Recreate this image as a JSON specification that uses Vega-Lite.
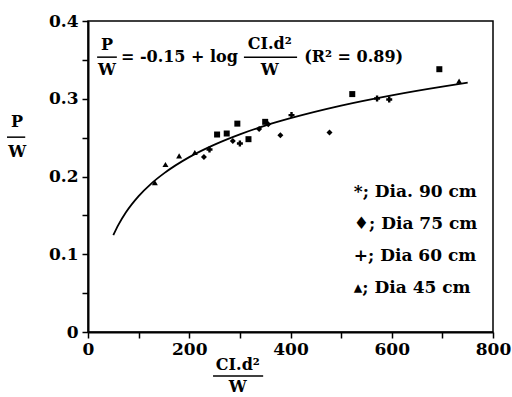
{
  "$schema": "https://vega.github.io/schema/vega-lite/v6.json",
  "autosize": "none",
  "width": 405,
  "height": 311,
  "padding": {"left": 88, "top": 21, "right": 19, "bottom": 65},
  "background": "white",
  "config": {
    "view": {"stroke": "black", "strokeWidth": 1.5},
    "axis": {"grid": false, "domainColor": "black", "domainWidth": 2, "tickColor": "black", "tickWidth": 1.5, "tickSize": 6,
      "labelFont": "DejaVu Serif", "labelFontWeight": "bold", "labelFontSize": 17, "labelColor": "black", "title": null, "labelFlush": false}
  },
  "datasets": {
    "pts": [
      {"x": 255, "y": 0.254, "dia": "90"},
      {"x": 274, "y": 0.2553, "dia": "90"},
      {"x": 295, "y": 0.268, "dia": "90"},
      {"x": 317, "y": 0.248, "dia": "90"},
      {"x": 350, "y": 0.2703, "dia": "90"},
      {"x": 522, "y": 0.306, "dia": "90"},
      {"x": 694, "y": 0.338, "dia": "90"},
      {"x": 229, "y": 0.2252, "dia": "75"},
      {"x": 286, "y": 0.2458, "dia": "75"},
      {"x": 338, "y": 0.261, "dia": "75"},
      {"x": 356, "y": 0.2673, "dia": "75"},
      {"x": 380, "y": 0.2532, "dia": "75"},
      {"x": 477, "y": 0.2566, "dia": "75"},
      {"x": 240, "y": 0.2347, "dia": "60"},
      {"x": 300, "y": 0.2425, "dia": "60"},
      {"x": 402, "y": 0.279, "dia": "60"},
      {"x": 571, "y": 0.3004, "dia": "60"},
      {"x": 595, "y": 0.299, "dia": "60"},
      {"x": 132, "y": 0.192, "dia": "45"},
      {"x": 153, "y": 0.2154, "dia": "45"},
      {"x": 180, "y": 0.2265, "dia": "45"},
      {"x": 211, "y": 0.2309, "dia": "45"},
      {"x": 733, "y": 0.3227, "dia": "45"}
    ],
    "curve": [
      {"x": 50, "y": 0.1245}, {"x": 60, "y": 0.1377}, {"x": 75, "y": 0.1539}, {"x": 100, "y": 0.1747},
      {"x": 125, "y": 0.1909}, {"x": 150, "y": 0.204}, {"x": 200, "y": 0.2249}, {"x": 250, "y": 0.241},
      {"x": 300, "y": 0.2542}, {"x": 350, "y": 0.2654}, {"x": 400, "y": 0.275}, {"x": 500, "y": 0.2912},
      {"x": 600, "y": 0.3044}, {"x": 700, "y": 0.3156}, {"x": 750, "y": 0.3206}
    ],
    "ctext": [
      {"x": 37.5, "y": 0.369, "t": "P"},
      {"x": 37.5, "y": 0.3369, "t": "W"},
      {"x": 359, "y": 0.3706, "t": "CI.d²"},
      {"x": 359, "y": 0.3369, "t": "W"},
      {"x": 296, "y": -0.043, "t": "CI.d²"},
      {"x": 296, "y": -0.0705, "t": "W"},
      {"x": -140, "y": 0.27, "t": "P"},
      {"x": -140, "y": 0.2313, "t": "W"}
    ],
    "ltext": [
      {"x": 65, "y": 0.3535, "t": "= -0.15 + log"},
      {"x": 427, "y": 0.3535, "t": "(R² = 0.89)"}
    ],
    "legend": [
      {"x": 525, "y": 0.1802, "t": "*; Dia. 90 cm"},
      {"x": 525, "y": 0.1395, "t": "♦; Dia 75 cm"},
      {"x": 525, "y": 0.0974, "t": "+; Dia 60 cm"},
      {"x": 525, "y": 0.0566, "t": "▴; Dia 45 cm"}
    ],
    "bars": [
      {"x": 18, "x2": 57, "y": 0.3535},
      {"x": 308, "x2": 413, "y": 0.3535},
      {"x": 247, "x2": 346, "y": -0.0565},
      {"x": -160, "x2": -124, "y": 0.2506}
    ]
  },
  "encoding": {
    "x": {"field": "x", "type": "quantitative", "scale": {"domain": [0, 800], "nice": false, "zero": false},
      "axis": {"values": [0, 100, 200, 300, 400, 500, 600, 700, 800], "labelExpr": "datum.value % 200 == 0 ? datum.label : ''", "labelPadding": 3}},
    "y": {"field": "y", "type": "quantitative", "scale": {"domain": [0, 0.4], "nice": false, "zero": false},
      "axis": {"values": [0, 0.05, 0.1, 0.15, 0.2, 0.25, 0.3, 0.35, 0.4], "format": ".1~f", "labelExpr": "round(datum.value*20) % 2 == 0 ? datum.label : ''", "labelPadding": 4}}
  },
  "layer": [
    {"data": {"name": "curve"}, "mark": {"type": "line", "color": "black", "strokeWidth": 1.8, "interpolate": "monotone"}},
    {"data": {"name": "pts"}, "mark": {"type": "point", "filled": true, "color": "black", "opacity": 1, "size": 36},
      "encoding": {"shape": {"field": "dia", "type": "nominal", "scale": {"domain": ["90", "75", "60", "45"], "range": ["square", "diamond", "cross", "triangle-up"]}, "legend": null}}},
    {"data": {"name": "bars"}, "mark": {"type": "rule", "color": "black", "strokeWidth": 1.5, "clip": false},
      "encoding": {"x2": {"field": "x2"}}},
    {"data": {"name": "ctext"}, "mark": {"type": "text", "font": "DejaVu Serif", "fontWeight": "bold", "fontSize": 16, "color": "black", "align": "center", "baseline": "middle", "clip": false},
      "encoding": {"text": {"field": "t"}}},
    {"data": {"name": "ltext"}, "mark": {"type": "text", "font": "DejaVu Serif", "fontWeight": "bold", "fontSize": 16, "color": "black", "align": "left", "baseline": "middle"},
      "encoding": {"text": {"field": "t"}}},
    {"data": {"name": "legend"}, "mark": {"type": "text", "font": "DejaVu Serif", "fontWeight": "bold", "fontSize": 17, "color": "black", "align": "left", "baseline": "middle"},
      "encoding": {"text": {"field": "t"}}}
  ]
}
